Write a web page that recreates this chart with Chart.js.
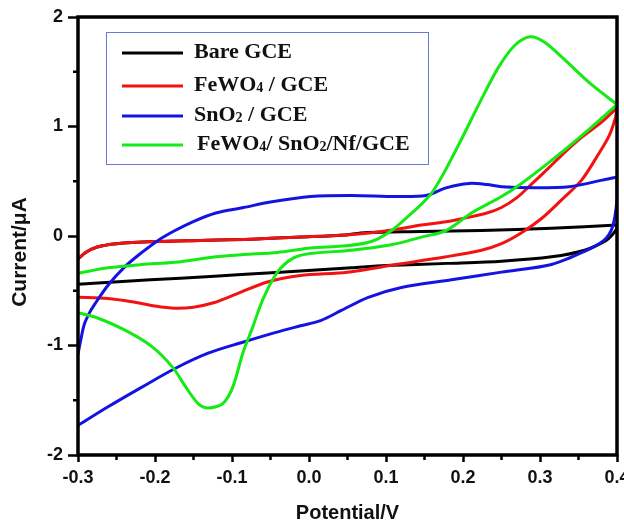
<!DOCTYPE html>
<html>
<head>
<meta charset="utf-8">
<script src="https://cdn.jsdelivr.net/npm/chart.js@4.4.0/dist/chart.umd.min.js"></script>
<style>
  html, body { margin: 0; padding: 0; background: #fff; }
  #wrap { width: 624px; height: 523px; }
</style>
</head>
<body>
<div id="wrap"><canvas id="cv" width="624" height="523"></canvas></div>
<script>
// Cyclic voltammograms: [potential (V), current (µA)] pairs for each sweep.

// Bare GCE
const bareAnodic = [
  [-0.300,-0.21],[-0.290,-0.15],[-0.275,-0.10],[-0.250,-0.07],[-0.200,-0.05],[-0.141,-0.04],
  [-0.076,-0.03],[-0.011,-0.01],[0.048,0.01],[0.072,0.03],[0.146,0.04],[0.224,0.05],
  [0.315,0.07],[0.400,0.10]
];
const bareCathodic = [
  [0.400,0.10],[0.399,0.06],[0.395,0.02],[0.386,-0.04],[0.358,-0.13],[0.315,-0.19],
  [0.250,-0.23],[0.180,-0.25],[0.100,-0.27],[0.055,-0.29],[-0.037,-0.33],[-0.128,-0.37],
  [-0.206,-0.40],[-0.300,-0.44]
];

// FeWO4 / GCE
const fewo4Anodic = [
  [-0.300,-0.21],[-0.290,-0.15],[-0.275,-0.10],[-0.250,-0.07],[-0.200,-0.05],[-0.141,-0.04],
  [-0.076,-0.03],[-0.011,-0.01],[0.048,0.01],[0.081,0.03],[0.113,0.06],[0.146,0.10],
  [0.178,0.13],[0.200,0.16],[0.231,0.21],[0.250,0.26],[0.270,0.35],[0.290,0.48],
  [0.311,0.62],[0.330,0.75],[0.354,0.90],[0.380,1.04],[0.400,1.17]
];
const fewo4Cathodic = [
  [0.400,1.17],[0.398,1.08],[0.390,0.92],[0.377,0.76],[0.354,0.51],[0.328,0.33],
  [0.302,0.16],[0.276,0.03],[0.250,-0.07],[0.224,-0.13],[0.178,-0.19],[0.113,-0.26],
  [0.050,-0.33],[-0.011,-0.36],[-0.054,-0.42],[-0.098,-0.54],[-0.124,-0.61],[-0.150,-0.65],
  [-0.174,-0.66],[-0.200,-0.64],[-0.230,-0.60],[-0.261,-0.57],[-0.300,-0.56]
];

// SnO2 / GCE
const sno2Anodic = [
  [-0.300,-1.08],[-0.297,-0.97],[-0.292,-0.81],[-0.285,-0.70],[-0.278,-0.62],[-0.261,-0.45],
  [-0.239,-0.28],[-0.217,-0.15],[-0.196,-0.04],[-0.174,0.05],[-0.151,0.13],[-0.121,0.21],
  [-0.085,0.26],[-0.050,0.31],[0.002,0.36],[0.055,0.37],[0.113,0.36],[0.152,0.37],
  [0.178,0.44],[0.208,0.48],[0.231,0.47],[0.250,0.45],[0.293,0.44],[0.338,0.45],
  [0.381,0.51],[0.400,0.54]
];
const sno2Cathodic = [
  [0.400,0.54],[0.400,0.33],[0.394,0.08],[0.383,-0.04],[0.358,-0.14],[0.315,-0.26],
  [0.250,-0.33],[0.185,-0.40],[0.120,-0.47],[0.077,-0.56],[0.042,-0.68],[0.016,-0.77],
  [-0.011,-0.82],[-0.043,-0.88],[-0.086,-0.97],[-0.131,-1.07],[-0.174,-1.21],[-0.217,-1.38],
  [-0.261,-1.56],[-0.300,-1.73]
];

// FeWO4 / SnO2 / Nf / GCE
const compositeAnodic = [
  [-0.300,-0.34],[-0.261,-0.29],[-0.217,-0.26],[-0.174,-0.24],[-0.121,-0.19],[-0.085,-0.17],
  [-0.041,-0.15],[0.002,-0.11],[0.048,-0.09],[0.081,-0.05],[0.103,0.03],[0.124,0.15],
  [0.159,0.39],[0.189,0.76],[0.224,1.25],[0.246,1.54],[0.267,1.74],[0.287,1.82],
  [0.306,1.77],[0.332,1.61],[0.364,1.40],[0.400,1.20]
];
const compositeCathodic = [
  [0.400,1.20],[0.358,0.94],[0.315,0.69],[0.276,0.48],[0.250,0.36],[0.211,0.21],
  [0.178,0.05],[0.146,-0.01],[0.107,-0.08],[0.055,-0.13],[0.002,-0.16],[-0.020,-0.20],
  [-0.041,-0.33],[-0.060,-0.58],[-0.073,-0.83],[-0.086,-1.07],[-0.099,-1.38],[-0.112,-1.53],
  [-0.131,-1.57],[-0.144,-1.53],[-0.160,-1.38],[-0.177,-1.20],[-0.204,-1.01],[-0.239,-0.86],
  [-0.278,-0.74],[-0.300,-0.70]
];

// Axis ticks
const xMinorTicks = [-0.25, -0.15, -0.05, 0.05, 0.15, 0.25, 0.35];
const yMinorTicks = [-1.5, -0.5, 0.5, 1.5];

// Legend entries (text split into normal / subscript runs)
const legendEntries = [
  { color: '#000000', parts: [['Bare GCE', false]] },
  { color: '#f21212', parts: [['FeWO', false], ['4', true], [' / GCE', false]] },
  { color: '#1414e0', parts: [['SnO', false], ['2', true], [' / GCE', false]] },
  { color: '#14ea14', parts: [['FeWO', false], ['4', true], ['/ SnO', false], ['2', true], ['/Nf/GCE', false]] }
];

const series = [
  { name: 'Bare GCE', color: '#000000', order: 4, sweeps: [bareAnodic, bareCathodic] },
  { name: 'FeWO4 / GCE', color: '#f21212', order: 3, sweeps: [fewo4Anodic, fewo4Cathodic] },
  { name: 'SnO2 / GCE', color: '#1414e0', order: 2, sweeps: [sno2Anodic, sno2Cathodic] },
  { name: 'FeWO4/ SnO2/Nf/GCE', color: '#14ea14', order: 1, sweeps: [compositeAnodic, compositeCathodic] }
];

const datasets = [];
series.forEach(s => {
  s.sweeps.forEach(sw => {
    datasets.push({
      label: s.name,
      data: sw.map(([v, i]) => ({ x: v, y: i })),
      borderColor: s.color,
      backgroundColor: s.color,
      borderWidth: 3,
      fill: false,
      order: s.order,
      tension: 0.3,
      pointRadius: 0
    });
  });
});

const tickFont = { family: "'Liberation Sans', Arial, sans-serif", size: 18, weight: 'bold' };

const decor = {
  id: 'decor',
  afterDatasetsDraw(chart) {
    const { ctx, chartArea: a, scales: { x, y } } = chart;
    ctx.save();
    ctx.strokeStyle = '#000';
    ctx.lineWidth = 2.5;
    ctx.beginPath();
    xMinorTicks.forEach(v => {
      const px = x.getPixelForValue(v);
      ctx.moveTo(px, a.bottom); ctx.lineTo(px, a.bottom + 5);
    });
    yMinorTicks.forEach(v => {
      const py = y.getPixelForValue(v);
      ctx.moveTo(a.left, py); ctx.lineTo(a.left - 5, py);
    });
    ctx.stroke();
    ctx.lineWidth = 3.5;
    ctx.strokeRect(a.left, a.top, a.right - a.left, a.bottom - a.top);
    ctx.restore();
  },
  afterDraw(chart) {
    const { ctx, chartArea: a } = chart;
    ctx.save();
    // legend box
    const bx = 106, by = 32, bw = 322, bh = 132;
    ctx.fillStyle = '#fff';
    ctx.fillRect(bx, by, bw, bh);
    ctx.strokeStyle = '#6a78d8';
    ctx.lineWidth = 1;
    ctx.strokeRect(bx + 0.5, by + 0.5, bw, bh);
    const rowY = [53, 86, 116, 145];
    const textX = [194, 194, 194, 197];
    legendEntries.forEach((e, k) => {
      const ly = rowY[k];
      ctx.strokeStyle = e.color;
      ctx.lineWidth = 3;
      ctx.beginPath();
      ctx.moveTo(122, ly); ctx.lineTo(183, ly);
      ctx.stroke();
      let tx = textX[k];
      ctx.fillStyle = '#111';
      ctx.textBaseline = 'alphabetic';
      ctx.textAlign = 'left';
      e.parts.forEach(([txt, sub]) => {
        ctx.font = sub ? "bold 14px 'Liberation Serif', 'Times New Roman', serif"
                       : "bold 22px 'Liberation Serif', 'Times New Roman', serif";
        ctx.fillText(txt, tx, ly + 4.5 + (sub ? 1 : 0));
        tx += ctx.measureText(txt).width;
      });
    });
    // axis titles
    ctx.fillStyle = '#111';
    ctx.font = "bold 20px 'Liberation Sans', Arial, sans-serif";
    ctx.textAlign = 'center';
    ctx.textBaseline = 'alphabetic';
    ctx.fillText('Potential/V', (a.left + a.right) / 2, 519);
    ctx.translate(26, 252);
    ctx.rotate(-Math.PI / 2);
    ctx.font = "bold 21px 'Liberation Sans', Arial, sans-serif";
    ctx.fillText('Current/\u03BCA', 0, 0);
    ctx.restore();
  }
};

new Chart(document.getElementById('cv'), {
  type: 'line',
  data: { datasets },
  options: {
    responsive: false,
    animation: false,
    layout: { padding: { top: 17, right: 7, left: 0, bottom: 0 } },
    plugins: { legend: { display: false }, tooltip: { enabled: false } },
    scales: {
      x: {
        type: 'linear', min: -0.3, max: 0.4,
        afterFit: s => { s.height = 68; s.paddingLeft = 0; s.paddingRight = 0; },
        border: { display: false },
        grid: { drawOnChartArea: false, drawTicks: true, tickLength: 7, tickWidth: 2.5, tickColor: '#000' },
        ticks: {
          stepSize: 0.1, padding: 5, color: '#111', font: tickFont, maxRotation: 0,
          callback: v => (Math.abs(v) < 1e-9 ? '0.0' : Number(v).toFixed(1))
        }
      },
      y: {
        type: 'linear', min: -2, max: 2,
        afterFit: s => { s.width = 78; s.paddingTop = 0; s.paddingBottom = 0; },
        border: { display: false },
        grid: { drawOnChartArea: false, drawTicks: true, tickLength: 10, tickWidth: 2.5, tickColor: '#000' },
        ticks: {
          stepSize: 1, padding: 5, color: '#111', font: tickFont,
          callback: v => String(Math.round(v))
        }
      }
    }
  },
  plugins: [decor]
});
</script>
</body>
</html>
